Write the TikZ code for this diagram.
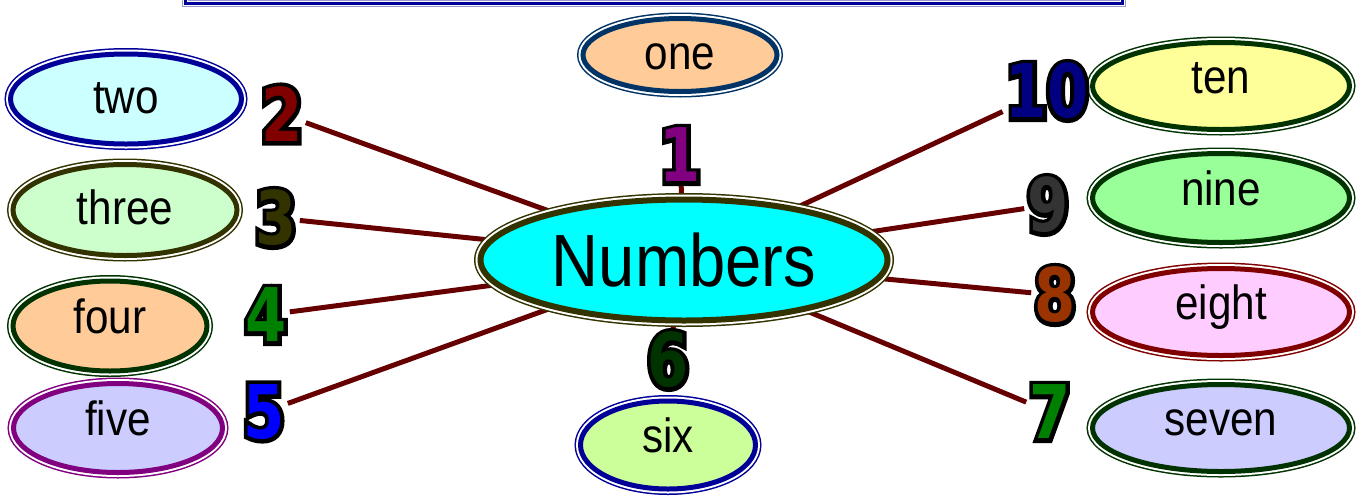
\documentclass[tikz,border=0pt]{standalone}
\usepackage{fontspec}
\setmainfont{Liberation Sans}[FakeStretch=0.88]
\newfontfamily\digitfont{DejaVu Sans Bold}[FakeStretch=0.8]
\newfontfamily\digitedge{DejaVu Sans Bold}[FakeStretch=0.8,FakeBold=11]
\usetikzlibrary{shapes.geometric,backgrounds}

\definecolor{navy}{HTML}{000099}
\definecolor{deepblue}{HTML}{003366}
\definecolor{olive}{HTML}{333300}
\definecolor{forest}{HTML}{003300}
\definecolor{plum}{HTML}{800080}
\definecolor{maroon}{HTML}{800000}
\definecolor{spokecol}{HTML}{660000}
\definecolor{peach}{HTML}{FFCC99}
\definecolor{icecyan}{HTML}{CCFFFF}
\definecolor{mint}{HTML}{CCFFCC}
\definecolor{lilac}{HTML}{CCCCFF}
\definecolor{lime}{HTML}{CCFF99}
\definecolor{pinky}{HTML}{FFCCFF}
\definecolor{leaf}{HTML}{99FF99}
\definecolor{butter}{HTML}{FFFF99}
\definecolor{aqua}{HTML}{00FFFF}
\definecolor{paleblue}{HTML}{9999CC}
\definecolor{grass}{HTML}{008000}
\definecolor{rust}{HTML}{993300}
\definecolor{coal}{HTML}{333333}
\definecolor{ink}{HTML}{000080}
\definecolor{brightblue}{HTML}{0000FF}

% outlined big digit: black stroked copy centred under the coloured one
\newcommand\bignum[2]{\setbox0\hbox{\digitfont\color{#1}#2}%
  \rlap{\hbox to\wd0{\hss\digitedge\color{black}#2\hss}}\box0}

\begin{document}
\begin{tikzpicture}[x=1pt,y=-1pt,
    bubble/.style 2 args={ellipse, fill=#1, draw=#2, line width=5pt,
      preaction={draw=#2, line width=12pt},
      preaction={draw=white, line width=9pt},
      inner sep=0pt, text height=34pt, text depth=5pt,
      font=\fontsize{48}{48}\selectfont},
    raised/.style={text depth=20pt},
    hubnode/.style={ellipse, fill=aqua, draw=olive, line width=6pt,
      preaction={draw=olive, line width=13pt},
      preaction={draw=white, line width=10pt},
      minimum width=407pt, minimum height=121pt,
      font=\fontsize{74}{74}\selectfont},
    num/.style={inner sep=3pt, font=\fontsize{74}{74}\selectfont},
    spoke/.style={draw=spokecol, line width=5pt}]
    \useasboundingbox (0,0) rectangle (1367,496);
    \clip (0,0) rectangle (1367,496);

    % title frame, only its lower edge shows
    \draw[draw=navy, line width=3pt,
      preaction={draw=paleblue, line width=7pt},
      preaction={draw=white, line width=5pt}] (185,-40) rectangle (1122,3);

    % centre
    \node[hubnode] (topic) at (684,260) {Numbers};

    % word bubbles
    \node[bubble={peach}{deepblue}, minimum width=194pt, minimum height=73pt] (w1) at (680,55) {one};
    \node[bubble={icecyan}{navy}, minimum width=231pt, minimum height=90pt] (w2) at (126,99) {two};
    \node[bubble={mint}{olive}, minimum width=224pt, minimum height=91pt] (w3) at (125,210) {three};
    \node[bubble={peach}{forest}, minimum width=194pt, minimum height=90pt, raised] (w4) at (110,326) {four};
    \node[bubble={lilac}{plum}, minimum width=209pt, minimum height=89pt, raised] (w5) at (118,428) {five};
    \node[bubble={lime}{navy}, minimum width=175pt, minimum height=88pt, raised] (w6) at (668,445) {six};
    \node[bubble={lilac}{forest}, minimum width=257pt, minimum height=87pt, raised] (w7) at (1221,428) {seven};
    \node[bubble={pinky}{maroon}, minimum width=257pt, minimum height=87pt, raised] (w8) at (1221,312) {eight};
    \node[bubble={leaf}{forest}, minimum width=257pt, minimum height=89pt, raised] (w9) at (1221,198) {nine};
    \node[bubble={butter}{forest}, minimum width=257pt, minimum height=87pt, raised] (w10) at (1221,86) {ten};

    % numerals
    \node[num] (n1) at (680,155) {\bignum{plum}{1}};
    \node[num] (n2) at (282,114) {\bignum{maroon}{2}};
    \node[num] (n3) at (276,218) {\bignum{olive}{3}};
    \node[num] (n4) at (266,315) {\bignum{grass}{4}};
    \node[num] (n5) at (264,412) {\bignum{brightblue}{5}};
    \node[num] (n6) at (668,360) {\bignum{forest}{6}};
    \node[num] (n7) at (1050,412) {\bignum{grass}{7}};
    \node[num] (n8) at (1055,295) {\bignum{rust}{8}};
    \node[num] (n9) at (1048,205) {\bignum{coal}{9}};
    \node[num] (n10) at (1047,91) {\bignum{ink}{10}};

    % spokes
    \begin{pgfonlayer}{background}
      \foreach \i in {1,...,10}
        \draw[spoke] (n\i) -- (topic);
    \end{pgfonlayer}
\end{tikzpicture}
\end{document}
